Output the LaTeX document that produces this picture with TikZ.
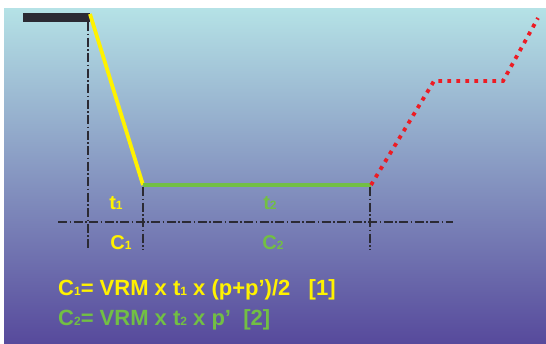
\documentclass[tikz,border=0pt]{standalone}
\usepackage{fontspec}
\setmainfont{Liberation Sans}
\definecolor{skytop}{HTML}{B5E2E6}
\definecolor{skymid}{HTML}{8A9AC8}
\definecolor{skybot}{HTML}{574A9C}
\definecolor{lineyel}{HTML}{FFF200}
\definecolor{linegrn}{HTML}{72BF44}
\definecolor{linered}{HTML}{ED1C24}
\definecolor{guide}{HTML}{2B2A33}
\newcommand{\lowdig}[1]{{\fontsize{12}{12}\selectfont #1}}
\tikzset{
  guideline/.style={guide, line width=1.1pt,
    dash pattern=on 9pt off 2.5pt on 1.5pt off 2.5pt},
  lbl/.style={inner sep=0pt, font=\fontsize{20}{20}\selectfont\bfseries},
  formula/.style={anchor=west, inner sep=0pt, font=\fontsize{22}{22}\selectfont\bfseries}
}
\begin{document}
\begin{tikzpicture}[x=1pt, y=-1pt]
    \useasboundingbox (0,0) rectangle (546,343);
    % Background
    \shade[top color=skytop, middle color=skymid, bottom color=skybot]
        (4,8) rectangle (546,343);

    % Profile points
    \coordinate (barL)  at (23,17);
    \coordinate (barR)  at (90,17);
    \coordinate (drop)  at (90,14);
    \coordinate (low)   at (143,185);
    \coordinate (lowR)  at (371,185);
    \coordinate (rise)  at (434,81);
    \coordinate (flatR) at (503,81);
    \coordinate (top)   at (538,18);

    % Guide lines
    \draw[guideline] (88,22) -- (88,250);
    \draw[guideline] (143,187) -- (143,250);
    \draw[guideline] (370,187) -- (370,250);
    \draw[guideline] (58,222) -- (453,222);

    % Profile
    \draw[guide, line width=9pt] (barL) -- (barR);
    \draw[lineyel, line width=3.8pt] (drop) -- (low);
    \draw[linegrn, line width=3.8pt] (low) -- (lowR);
    \draw[linered, line width=3.8pt, dash pattern=on 3.8pt off 5.2pt]
        (lowR) -- (rise) -- (flatR) -- (top);

    % Labels
    \node[lbl, lineyel] (t1) at (116,203) {t\lowdig{1}};
    \node[lbl, linegrn] (t2) at (270,203) {t\lowdig{2}};
    \node[lbl, lineyel] (c1) at (121,243) {C\lowdig{1}};
    \node[lbl, linegrn] (c2) at (273,243) {C\lowdig{2}};

    % Formulas
    \node[formula, lineyel] (f1) at (58,290)
        {C\lowdig{1}= VRM x t\lowdig{1} x (p+p’)/2 \ \ [1]};
    \node[formula, linegrn] (f2) at (58,320)
        {C\lowdig{2}= VRM x t\lowdig{2} x p’ \ [2]};
\end{tikzpicture}
\end{document}
